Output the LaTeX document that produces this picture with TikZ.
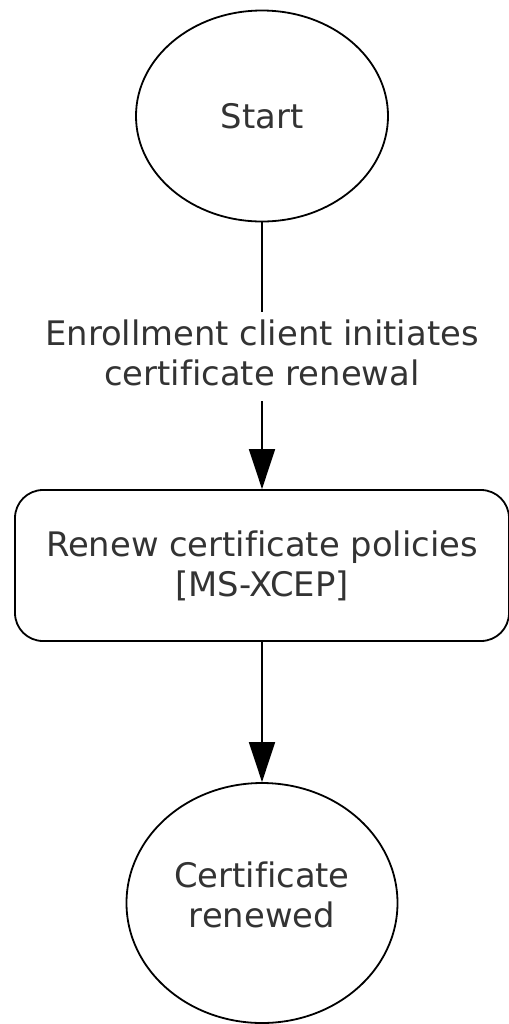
\documentclass[tikz,border=0pt]{standalone}
\usepackage{fontspec}
\setmainfont{DejaVu Sans}[Ligatures=NoCommon]
\usepackage{xcolor}
\usetikzlibrary{shapes.geometric,positioning,arrows.meta}
\tikzset{>={Triangle[length=20pt,width=13pt]}}
\definecolor{labelgray}{RGB}{51,51,51}

\begin{document}
\begin{tikzpicture}[
on grid,
every node/.style={font=\fontsize{16.9}{20}\selectfont, text=labelgray, align=center},
roundnode/.style={ellipse, draw=black, line width=0.9pt, inner sep=0pt},
roundedbox/.style={rectangle, rounded corners=14pt, draw=black, line width=0.9pt, minimum width=247pt, minimum height=75.5pt},
flowline/.style={line width=0.9pt},
]
\useasboundingbox (0,0) rectangle (254.5pt,-512pt);
%Nodes
\node[roundnode, minimum width=126pt, minimum height=105.5pt](Start) at (131pt,-58pt){Start};
\node[inner sep=0pt](Initiates)[below=118.5pt of Start]{Enrollment client initiates\\certificate renewal};
\node[roundedbox](Renew)[below=106.25pt of Initiates]{Renew certificate policies\\{[MS-XCEP]}};
\node[roundnode, minimum width=135.5pt, minimum height=120pt, text depth=8pt](Renewed)[below=168.75pt of Renew]{Certificate\\renewed};

%Lines
\draw[flowline, shorten >=4pt] (Start) -- (Initiates);
\draw[flowline, ->, shorten <=7.5pt] (Initiates) -- (Renew);
\draw[flowline, ->] (Renew) -- (Renewed);
\end{tikzpicture}
\end{document}
